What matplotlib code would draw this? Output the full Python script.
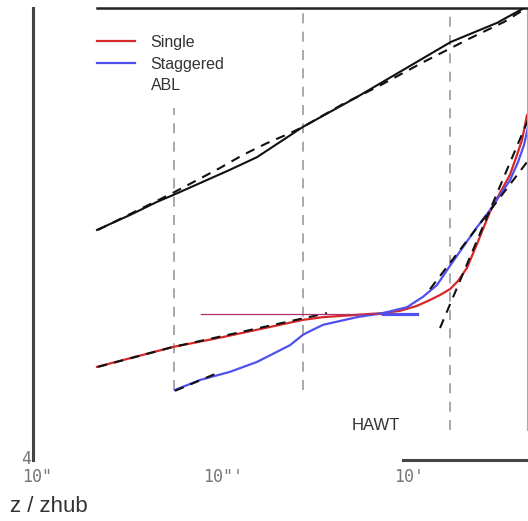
import matplotlib.pyplot as plt
from matplotlib.lines import Line2D
from matplotlib.transforms import ScaledTranslation

# ABL reference profile, solid and fitted (dashed)
abl_x = [0.02102, 0.03162, 0.04416, 0.05383, 0.1090, 0.1524, 0.2692, 0.5253, 1.682, 2.972, 4.153, 4.363]
abl_y = [9.09, 9.42, 9.71, 9.86, 10.42, 10.70, 11.37, 12.03, 13.25, 13.67, 14.0, 14.07]
abl_fit_x = [0.02128, 0.05383, 0.07246, 0.09636, 0.1281, 0.1724, 0.2292, 0.2692, 0.4528, 0.6730, 1.204, 2.154, 3.242, 4.363]
abl_fit_y = [9.09, 9.91, 10.19, 10.46, 10.75, 11.01, 11.23, 11.37, 11.90, 12.25, 12.81, 13.34, 13.69, 14.02]

# single turbine wake
single_x = [0.02102, 0.05383, 0.1, 0.2692, 0.3447, 0.7246, 0.8946, 1.104, 1.297, 1.468,
            1.661, 1.834, 2.050, 2.321, 2.726, 3.085, 3.491, 3.808, 4.052, 4.309]
single_y = [6.06, 6.50, 6.72, 7.10, 7.16, 7.25, 7.30, 7.41, 7.54, 7.65,
            7.78, 7.96, 8.25, 8.78, 9.49, 9.91, 10.31, 10.75, 11.08, 11.63]

# staggered array
stag_x = [0.05519, 0.07522, 0.1090, 0.1524, 0.2292, 0.2692, 0.2936, 0.3447, 0.5253, 0.7246, 0.9754,
          1.189, 1.414, 1.601, 1.951, 2.321, 2.726, 3.085, 3.491, 3.855, 4.153, 4.363]
stag_y = [5.55, 5.77, 5.95, 6.17, 6.54, 6.77, 6.85, 6.99, 7.16, 7.25, 7.38,
          7.61, 7.87, 8.20, 8.71, 9.15, 9.53, 9.86, 10.19, 10.59, 10.97, 11.37]

# log-law fits
fit_low_x = [0.02128, 0.05383, 0.3623]
fit_low_y = [6.06, 6.50, 7.25]
fit_stag_x = [0.05519, 0.09284]
fit_stag_y = [5.53, 5.92]
fit_a_x = [1.468, 4.363]
fit_a_y = [6.92, 11.52]
fit_b_x = [1.297, 4.363]
fit_b_y = [7.78, 10.62]

# hub level markers
hub_line_x = [0.07616, 0.8946]
hub_seg_x = [0.7246, 1.104]
hub_y = 7.23

# vertical guides
guide_x = [0.05453, 0.2692, 1.661]
guide_top = [11.79, 14.0, 14.0]
guide_bottom = [5.55, 5.55, 4.66]

xticks = [0.01, 0.1, 1.0]
xtick_labels = ['10"', '10"\'', "10'"]

fig = plt.figure(figsize=(5.28, 5.21), dpi=100)
ax = fig.add_axes([0.0625, 0.1171, 0.9356, 0.8676])
ax.set_xscale('log')
ax.set_xlim(0.009517, 4.309)
ax.set_ylim(4, 14)

ax.vlines(guide_x, guide_bottom, guide_top, colors='#9a9a9a', lw=1.2,
          linestyles=(0, (6, 5)), zorder=1)

ax.plot(single_x, single_y, color='#d62828', lw=1.6, zorder=2)
ax.plot(stag_x, stag_y, color='#5050f0', lw=1.6, zorder=2)

dash = (0, (4.5, 3.5))
ax.plot(abl_x, abl_y, color='#111111', lw=1.5, zorder=3)
ax.plot(abl_fit_x, abl_fit_y, color='#111111', lw=1.5, ls=dash, zorder=3)
ax.plot(fit_low_x, fit_low_y, color='#111111', lw=1.5, ls=dash, zorder=3)
ax.plot(fit_stag_x, fit_stag_y, color='#111111', lw=1.5, ls=dash, zorder=3)
ax.plot(fit_a_x, fit_a_y, color='#111111', lw=1.5, ls=dash, zorder=3)
ax.plot(fit_b_x, fit_b_y, color='#111111', lw=1.5, ls=dash, zorder=3)

ax.plot(hub_line_x, [hub_y, hub_y], color='#b03070', lw=0.9, zorder=4)
ax.plot(hub_seg_x, [hub_y, hub_y], color='#5050f0', lw=2.3, zorder=4)

ax.text(0.4937, 4.66, 'HAWT', family='Liberation Sans', fontsize=12,
        color='#333333', ha='left', va='baseline')

# spines
ax.spines['top'].set_bounds(0.02102, 4.309)
ax.spines['top'].set_linewidth(1.8)
ax.spines['top'].set_color('#222222')
ax.spines['bottom'].set_bounds(0.9284, 4.309)
ax.spines['bottom'].set_linewidth(2.2)
ax.spines['bottom'].set_color('#444444')
ax.spines['left'].set_linewidth(2.2)
ax.spines['left'].set_color('#444444')
ax.spines['right'].set_bounds(4.66, 14)
ax.spines['right'].set_linewidth(0.8)
ax.spines['right'].set_color('#aaaaaa')

ax.set_xticks(xticks)
ax.set_xticklabels(xtick_labels)
ax.xaxis.set_minor_locator(plt.NullLocator())
ax.set_yticks([4])
ax.set_yticklabels(['4'])
ax.tick_params(length=0, labelcolor='#777777', labelsize=12)
ax.tick_params(axis='x', pad=6)
ax.tick_params(axis='y', pad=1.5)
for lab in ax.get_xticklabels() + ax.get_yticklabels():
    lab.set_family('DejaVu Sans Mono')
for lab in ax.get_yticklabels():
    lab.set_transform(lab.get_transform() + ScaledTranslation(0, 0.03, fig.dpi_scale_trans))

ax.set_xlabel('z / zhub', family='Liberation Sans', fontsize=16, color='#333333')
ax.xaxis.set_label_coords(-0.0465, -0.115)
ax.xaxis.label.set_ha('left')
ax.xaxis.label.set_va('baseline')

handles = [Line2D([], [], color='#d62828', lw=1.6),
           Line2D([], [], color='#5050f0', lw=1.6),
           Line2D([], [], color='none')]
ax.legend(handles, ['Single', 'Staggered', 'ABL'], loc='upper left',
          bbox_to_anchor=(97 / 528, 1 - 35 / 521), bbox_transform=fig.transFigure,
          frameon=False, borderpad=0, borderaxespad=0, handlelength=2.4,
          handletextpad=0.95, labelspacing=0.41,
          prop={'family': 'Liberation Sans', 'size': 11.5}, labelcolor='#333333')

fig.savefig('out.png', dpi=100)
